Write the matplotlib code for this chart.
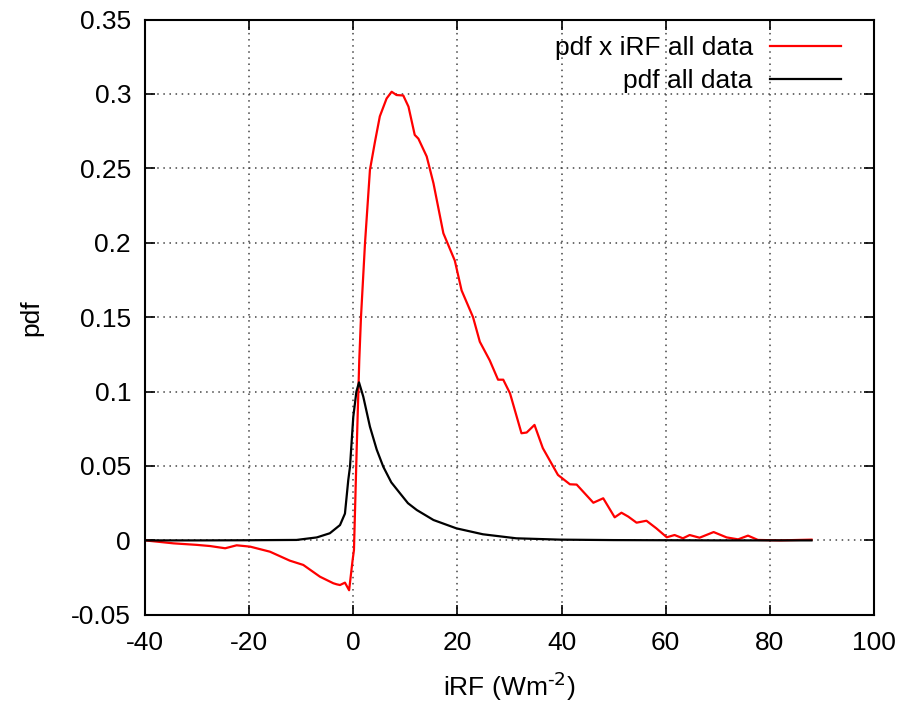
import matplotlib
matplotlib.use('Agg')
import matplotlib.pyplot as plt

plt.rcParams['font.family'] = ['Liberation Sans', 'DejaVu Sans']
plt.rcParams['axes.unicode_minus'] = False

# pdf x iRF all data (red)
irf_x = [-40, -34.5, -30.1, -27.5, -24.6, -22.4, -19.8, -16, -12.2, -9.6, -6.4, -3.84, -3.2,
         -2.55, -1.6, -0.8, -0.12, 0.13, 0.65, 1.15, 1.48, 2.25, 3.2, 4.17, 5.1, 6.4, 7.37,
         8.3, 9.6, 10.6, 11.8, 12.5, 14.1, 15.4, 17.3, 19.5, 20.8, 23.0, 24.3, 26.2, 27.8,
         28.8, 30.1, 32.3, 33.3, 34.8, 36.4, 39.3, 41.6, 42.9, 46.1, 48.0, 50.2, 51.5, 52.8,
         54.4, 56.3, 58.2, 60.2, 61.7, 63.3, 64.6, 66.5, 69.2, 71.7, 73.9, 75.8, 77.7, 81.9, 88]
irf_y = [0, -0.002, -0.003, -0.0038, -0.0053, -0.0033, -0.0042, -0.0076, -0.0136, -0.0165,
         -0.0244, -0.0288, -0.0295, -0.030, -0.0284, -0.0335, -0.013, -0.0065, 0.0608, 0.121,
         0.150, 0.1997, 0.249, 0.268, 0.285, 0.297, 0.3015, 0.2993, 0.299, 0.2915, 0.2725,
         0.270, 0.258, 0.240, 0.2064, 0.188, 0.168, 0.150, 0.1335, 0.121, 0.108, 0.108, 0.0988,
         0.072, 0.0725, 0.0776, 0.062, 0.044, 0.0377, 0.0375, 0.0253, 0.0283, 0.0155, 0.0186,
         0.016, 0.0119, 0.0132, 0.0081, 0.0021, 0.0036, 0.0014, 0.0036, 0.0018, 0.0056, 0.002,
         0.0007, 0.0032, 0.0003, 0.0, 0.0005]

# pdf all data (black)
pdf_x = [-40, -30, -20, -16, -10.9, -7, -4.5, -2.55, -1.6, -0.96, -0.63, 0, 0.6, 1.1, 1.92,
         3.2, 4.5, 5.76, 7.3, 8.96, 10.5, 12.2, 15.4, 19.8, 24.9, 31.3, 39.7, 50, 60, 70, 80, 88]
pdf_y = [0, 0, 0.0001, 0.0002, 0.0003, 0.002, 0.0048, 0.0103, 0.018, 0.0406, 0.0495, 0.083,
         0.100, 0.1062, 0.0966, 0.0764, 0.061, 0.0495, 0.039, 0.0317, 0.025, 0.0204, 0.0137,
         0.0081, 0.0041, 0.0014, 0.0005, 0.0002, 0.0001, 0, 0, 0]

xticks = [-40, -20, 0, 20, 40, 60, 80, 100]
yticks = [-0.05, 0, 0.05, 0.1, 0.15, 0.2, 0.25, 0.3, 0.35]
ytick_labels = ['-0.05', '0', '0.05', '0.1', '0.15', '0.2', '0.25', '0.3', '0.35']

fig = plt.figure(figsize=(9.13, 7.10), dpi=100)
ax = fig.add_axes([0.1588, 0.1341, 0.7985, 0.8383])

ax.plot(irf_x, irf_y, color='#ff0000', lw=1.6, label='pdf x iRF all data')
ax.plot(pdf_x, pdf_y, color='black', lw=1.6, label='pdf all data')

ax.set_xlim(-40, 100)
ax.set_ylim(-0.05, 0.35)
ax.set_xticks(xticks)
ax.set_yticks(yticks)
ax.set_yticklabels(ytick_labels)
ax.grid(True, color='#444444', linestyle=(0, (1, 3)), lw=1.1)
ax.tick_params(direction='in', length=7, width=1.2, top=True, right=True, labelsize=19)
ax.tick_params(axis='x', pad=12)
ax.tick_params(axis='y', pad=10)
for s in ax.spines.values():
    s.set_linewidth(1.5)

ax.set_xlabel('iRF (Wm$^{\\text{-2}}$)', fontsize=19, labelpad=10)
ax.set_ylabel('pdf', fontsize=19, labelpad=20)

leg = ax.legend(loc='upper right', bbox_to_anchor=(0.955, 0.972), frameon=False, fontsize=19,
                markerfirst=False, handlelength=2.7, handletextpad=0.65,
                borderaxespad=0, borderpad=0, labelspacing=0.33)
for t in leg.get_texts():
    t.set_ha('right')

fig.savefig('out.png', dpi=100)
